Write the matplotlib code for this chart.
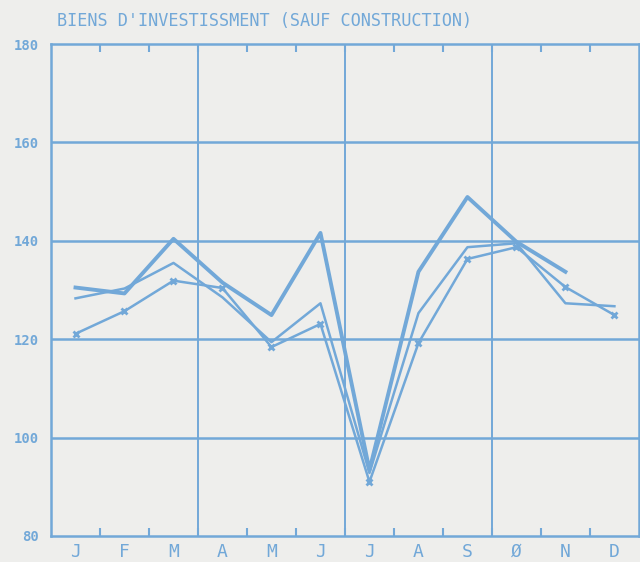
import numpy as np
import matplotlib.pyplot as plt

# données (indice, base 100)
mois = ['J', 'F', 'M', 'A', 'M', 'J', 'J', 'A', 'S', 'Ø', 'N', 'D']
serie_a = [130.5, 129.3, 140.4, 131.5, 124.9, 141.6, 93.4, 133.7, 148.9, 139.8, 133.7]  # trait épais
serie_b = [128.3, 130.3, 135.5, 128.5, 119.4, 127.3, 92.8, 125.3, 138.7, 139.5, 127.3, 126.7]
serie_c = [121.1, 125.7, 131.9, 130.4, 118.4, 123.1, 91.0, 119.2, 136.3, 138.7, 130.6, 124.9]  # avec croix
y_ticks = [80, 100, 120, 140, 160, 180]

bleu = '#72a8d8'
fond = '#eeeeec'

fig = plt.figure(figsize=(6.4, 5.62), dpi=100, facecolor=fond)
ax = fig.add_axes([0.0797, 0.0463, 0.9186, 0.8754], facecolor=fond)

x = np.arange(12) + 0.5

# grille
for yv in y_ticks[1:-1]:
    ax.axhline(yv, color=bleu, lw=1.8, zorder=1)
for xv in [3, 6, 9]:
    ax.axvline(xv, color=bleu, lw=1.4, zorder=1)

ax.plot(x[:len(serie_a)], serie_a, color=bleu, lw=2.8, zorder=3)
ax.plot(x, serie_b, color=bleu, lw=1.8, zorder=3)
ax.plot(x, serie_c, color=bleu, lw=1.8, marker='x', ms=5, mew=2, zorder=3)

ax.set_xlim(0, 12)
ax.set_ylim(80, 180)

for s in ax.spines.values():
    s.set_color(bleu)
    s.set_linewidth(1.8)

# petits traits de graduation en haut et en bas
ax.set_xticks(np.arange(1, 12))
ax.set_xticklabels([])
ax.tick_params(axis='x', direction='in', length=6, width=1.5, color=bleu,
               top=True, bottom=True)
ax.set_xticks(x, minor=True)
ax.set_xticklabels(mois, minor=True, fontsize=13, color=bleu,
                   family='DejaVu Sans Mono')
ax.tick_params(axis='x', which='minor', length=0, pad=5)

ax.set_yticks(y_ticks)
ax.set_yticklabels([str(v) for v in y_ticks], fontsize=10, color=bleu,
                   fontweight='bold', family='DejaVu Sans Mono')
ax.tick_params(axis='y', length=0, pad=9)

fig.text(0.089, 0.963, "BIENS D'INVESTISSMENT (SAUF CONSTRUCTION)",
         fontsize=12.2, color=bleu, family='DejaVu Sans Mono', va='center')

plt.savefig('out.png', dpi=100, facecolor=fond)
